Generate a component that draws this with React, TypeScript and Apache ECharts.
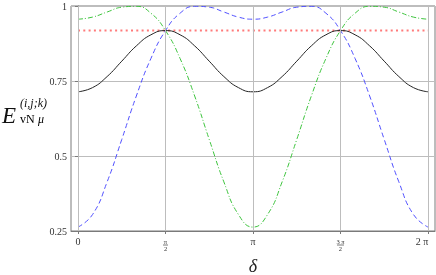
import React, { useEffect, useRef } from "react";
import * as echarts from "echarts";

// delta sample positions in units of pi/12 (0 .. 2pi)
const deltaTwelfths = [0, 1, 2, 3, 4, 5, 6, 7, 8, 9, 10, 11, 12, 13, 14, 15, 16, 17, 18, 19, 20, 21, 22, 23, 24];

const blackValues = [0.714, 0.728, 0.765, 0.816, 0.867, 0.904, 0.918, 0.904, 0.867, 0.816, 0.765, 0.728, 0.714,
  0.728, 0.765, 0.816, 0.867, 0.904, 0.918, 0.904, 0.867, 0.816, 0.765, 0.728, 0.714];
const blueValues = [0.263, 0.305, 0.414, 0.555, 0.7, 0.825, 0.918, 0.976, 0.999, 0.996, 0.98, 0.963, 0.956,
  0.963, 0.98, 0.996, 0.999, 0.976, 0.918, 0.825, 0.7, 0.555, 0.414, 0.305, 0.263];
const greenValues = [0.956, 0.963, 0.98, 0.996, 0.999, 0.976, 0.918, 0.825, 0.7, 0.555, 0.414, 0.305, 0.263,
  0.305, 0.414, 0.555, 0.7, 0.825, 0.918, 0.976, 0.999, 0.996, 0.98, 0.963, 0.956];
const redEnds = [0, 24];
const redLevel = 0.918;

const xTickTwelfths = [0, 6, 12, 18, 24];
const xTickLabels = ["{w|0}", "{n|π}\n{d|2}", "{w|π}", "{n|3 π}\n{d|2}", "{e|2 π}"];
const fractionTwelfths = [6, 18];
const fractionBarWidths = [5, 7];
const yTicks = [0.25, 0.5, 0.75, 1];
const yTickLabels = ["0.25", "0.5", "0.75", "1"];

const toDelta = (k: number) => (k * Math.PI) / 12;
const SERIF = "'Liberation Serif', 'DejaVu Serif', serif";

export default function App() {
  const ref = useRef<HTMLDivElement>(null);
  useEffect(() => {
    if (!ref.current) return;
    const chart = echarts.init(ref.current, undefined, { renderer: "svg" });
    const pad = 0.1257;
    const xTickVals = xTickTwelfths.map(toDelta);
    const mk = (vals: number[]) => deltaTwelfths.map((k, i) => [toDelta(k), vals[i]]);
    const labelMargin = 7;
    const baseGraphic: any[] = [
      {
        id: "E",
        type: "text",
        left: 2,
        top: 104,
        style: { text: "E", font: `italic 23px ${SERIF}`, fill: "#111" },
      },
      {
        id: "sup",
        type: "text",
        left: 20,
        top: 97,
        style: { text: "(i,j;k)", font: `italic 12px ${SERIF}`, fill: "#111" },
      },
      {
        id: "sub",
        type: "text",
        left: 20,
        top: 113,
        style: {
          text: "{a|vN} {b|μ}",
          rich: {
            a: { fontFamily: SERIF, fontSize: 12, color: "#111" },
            b: { fontFamily: SERIF, fontSize: 12, fontStyle: "italic", color: "#111" },
          },
        },
      },
    ];
    chart.setOption({
      animation: false,
      grid: {
        left: 71,
        right: 1,
        top: 6,
        bottom: 44,
        containLabel: false,
        outerBoundsMode: "none",
        show: true,
        borderColor: "#7a7a7a",
        borderWidth: 1,
        backgroundColor: "transparent",
      },
      xAxis: {
        type: "value",
        min: -pad,
        max: 2 * Math.PI + pad,
        name: "δ",
        nameLocation: "middle",
        nameGap: 25,
        nameTextStyle: { fontFamily: SERIF, fontStyle: "italic", fontSize: 18, color: "#222" },
        axisLine: { show: true, lineStyle: { color: "#7a7a7a", width: 1 } },
        axisTick: { show: true, customValues: xTickVals, length: 3, lineStyle: { color: "#7a7a7a" } },
        splitLine: { show: false },
        axisLabel: {
          customValues: xTickVals,
          margin: labelMargin,
          fontFamily: SERIF,
          fontSize: 10,
          color: "#333",
          verticalAlign: "top",
          formatter: (v: number) => {
            const idx = xTickVals.findIndex((t) => Math.abs(t - v) < 1e-6);
            return idx >= 0 ? xTickLabels[idx] : "";
          },
          rich: {
            w: { fontFamily: SERIF, fontSize: 10, lineHeight: 7, color: "#333", align: "center" },
            e: { fontFamily: SERIF, fontSize: 10, lineHeight: 7, color: "#333", padding: [0, 12, 0, 0] },
            n: { fontFamily: SERIF, fontSize: 6.5, lineHeight: 6, color: "#333", align: "center" },
            d: { fontFamily: SERIF, fontSize: 6.5, lineHeight: 9, color: "#333", align: "center" },
          },
        },
      },
      yAxis: {
        type: "value",
        min: 0.25,
        max: 1,
        interval: 0.25,
        axisLine: { show: true, lineStyle: { color: "#7a7a7a", width: 1 } },
        axisTick: { show: true, length: 3, lineStyle: { color: "#7a7a7a" } },
        splitLine: { show: true, lineStyle: { color: "#bdbdbd", width: 1 } },
        axisLabel: {
          margin: 4,
          fontFamily: SERIF,
          fontSize: 10,
          color: "#333",
          formatter: (v: number) => {
            const idx = yTicks.findIndex((t) => Math.abs(t - v) < 1e-6);
            return idx >= 0 ? yTickLabels[idx] : "";
          },
        },
      },
      graphic: baseGraphic,
      series: [
        {
          type: "line",
          name: "grid",
          data: [[0, 0.25]],
          symbol: "none",
          lineStyle: { opacity: 0 },
          silent: true,
          markLine: {
            silent: true,
            symbol: ["none", "none"],
            label: { show: false },
            lineStyle: { color: "#bdbdbd", width: 1, type: "solid" },
            data: xTickVals.map((v) => ({ xAxis: v })),
          },
        },
        {
          type: "line",
          name: "red",
          data: redEnds.map((k) => [toDelta(k), redLevel]),
          symbol: "none",
          lineStyle: { color: "#ff7a7a", width: 2, type: [2, 3.3] },
        },
        {
          type: "line",
          name: "green",
          data: mk(greenValues),
          smooth: true,
          symbol: "none",
          lineStyle: { color: "#3ec43e", width: 1, type: [5, 2, 1, 2] },
        },
        {
          type: "line",
          name: "blue",
          data: mk(blueValues),
          smooth: true,
          symbol: "none",
          lineStyle: { color: "#5050ff", width: 1, type: [5, 3] },
        },
        {
          type: "line",
          name: "black",
          data: mk(blackValues),
          smooth: true,
          symbol: "none",
          lineStyle: { color: "#222", width: 1 },
        },
      ],
    });
    // fraction bars under the numerators of the pi/2 and 3pi/2 tick labels
    const axisY = chart.convertToPixel({ yAxisIndex: 0 }, 0.25) as number;
    const barY = axisY + labelMargin + 7;
    const bars = fractionTwelfths.map((k, i) => {
      const cx = chart.convertToPixel({ xAxisIndex: 0 }, toDelta(k)) as number;
      const w = fractionBarWidths[i];
      return {
        id: "bar" + i,
        type: "line",
        silent: true,
        shape: { x1: cx - w / 2, y1: barY, x2: cx + w / 2, y2: barY },
        style: { stroke: "#555", lineWidth: 0.8 },
      };
    });
    chart.setOption({ graphic: [...baseGraphic, ...bars] });
    return () => chart.dispose();
  }, []);
  return (
    <div
      ref={ref}
      style={{ position: "fixed", left: 0, top: 0, width: 436, height: 275 }}
    />
  );
}
